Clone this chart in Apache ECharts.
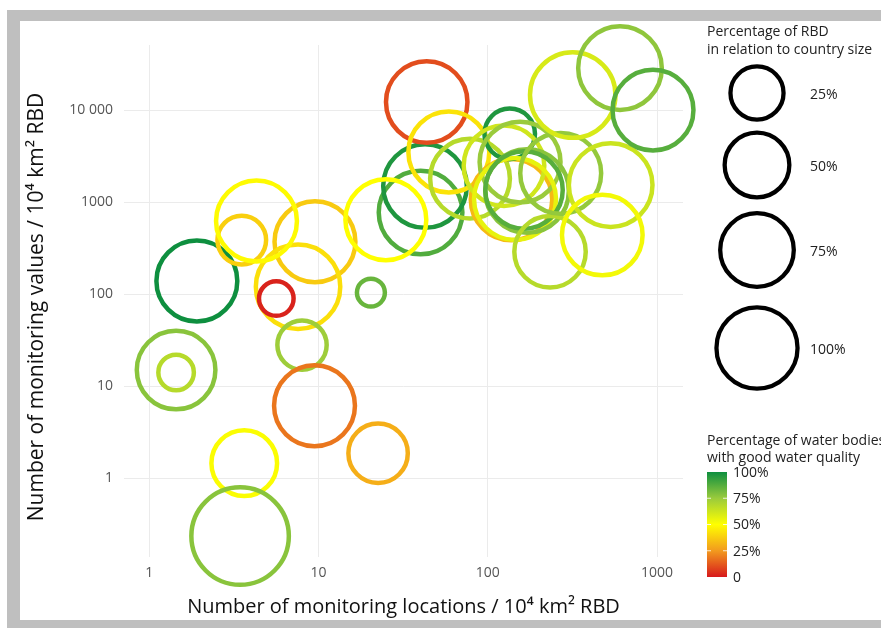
<!DOCTYPE html>
<html>
<head>
<meta charset="utf-8">
<script src="https://cdn.jsdelivr.net/npm/echarts@6/dist/echarts.min.js"></script>
<style>
  html, body { margin: 0; padding: 0; background: #ffffff; }
  #chart { width: 881px; height: 628px; }
</style>
</head>
<body>
<div id="chart"></div>
<script>
// ---- data ----
// monitoring locations / 10^4 km2 RBD
const locations = [1.91, 3.52, 9.53, 7.57, 4.30, 5.63, 20.4, 1.44, 1.44, 7.99, 9.47, 22.5, 3.64, 3.44,
  40.1, 42.6, 25.0, 43.6, 58.9, 78.6, 138.2, 134.9, 124.8, 155.3, 145, 170.7, 163.9, 233.5, 270, 533, 475.5, 318, 605, 948];
// monitoring values / 10^4 km2 RBD
const values = [139, 387, 371, 120.5, 623, 89.7, 104, 15.0, 14.1, 28.0, 6.13, 1.87, 1.46, 0.236,
  771, 1496, 644, 12220, 3500, 1804, 1065, 5520, 2485, 2724, 1081, 1320, 1353, 289, 2055, 1533, 439, 14560, 28600, 10000];
// percentage of RBD in relation to country size
const rbdShare = [100, 18, 100, 113, 100, 3, 0.3, 92, 3.6, 19, 100, 38, 53, 168,
  110, 110, 100, 102, 100, 96, 102, 21, 99, 100, 104, 110, 88, 69, 100, 110, 99, 117, 110, 100];
// percentage of water bodies with good water quality
const goodStatus = [100, 38, 37, 42, 49, 2, 84, 78, 68, 74, 18, 30, 51, 78,
  88, 97, 50, 10, 43, 68, 33, 97, 62, 75, 56, 78, 87, 68, 76, 63, 53, 60, 77, 87];

const xTicks = [1, 10, 100, 1000];
const xTickLabels = ['1', '10', '100', '1000'];
const yTicks = [1, 10, 100, 1000, 10000];
const yTickLabels = ['1', '10', '100', '1000', '10 000'];

const sizeLegendValues = [25, 50, 75, 100];
const sizeLegendLabels = ['25%', '50%', '75%', '100%'];
const colorLegendValues = [100, 75, 50, 25, 0];
const colorLegendLabels = ['100%', '75%', '50%', '25%', '0'];
const colorStops = ['#d7191c', '#f29a1e', '#ffff00', '#9acb3c', '#0e8f3f'];

// ---- helpers ----
const FONT = 'Open Sans';
const STROKE = 4.5;
function outerRadius(p) { return 14.7 + 2.8 * Math.sqrt(p); }
function tickLabel(v, ticks, labels) {
  for (let i = 0; i < ticks.length; i++) {
    if (Math.abs(Math.log10(v) - Math.log10(ticks[i])) < 1e-6) return labels[i];
  }
  return '';
}

const data = locations.map((x, i) => [x, values[i], rbdShare[i], goodStatus[i]]);

const chart = echarts.init(document.getElementById('chart'), null, { renderer: 'canvas' });

// Graphic decorations: frame, size legend, colour bar
const graphics = [];
graphics.push({ type: 'rect', shape: { x: 7, y: 10, width: 874, height: 11 }, style: { fill: '#bfbfbf' }, silent: true });
graphics.push({ type: 'rect', shape: { x: 7, y: 10, width: 13, height: 618 }, style: { fill: '#bfbfbf' }, silent: true });
graphics.push({ type: 'rect', shape: { x: 7, y: 620, width: 874, height: 8 }, style: { fill: '#bfbfbf' }, silent: true });

// size legend
graphics.push({ type: 'text', left: 707, top: 23, style: { text: 'Percentage of RBD\nin relation to country size', font: '14px "' + FONT + '"', fill: '#222', lineHeight: 18 } });
const sizeY = [93, 165, 250, 348];
sizeLegendValues.forEach((v, i) => {
  const r = outerRadius(v) - 2.15;
  graphics.push({ type: 'circle', shape: { cx: 757, cy: sizeY[i], r: r }, style: { fill: 'none', stroke: '#000', lineWidth: 4.3 } });
  graphics.push({ type: 'text', x: 810, y: sizeY[i] + 2, style: { text: sizeLegendLabels[i], font: '14px "' + FONT + '"', fill: '#222', verticalAlign: 'middle' } });
});

// colour legend
graphics.push({ type: 'text', left: 707, top: 433, style: { text: 'Percentage of water bodies\nwith good water quality', font: '14px "' + FONT + '"', fill: '#222', lineHeight: 17 } });
const barX = 707, barY = 472, barW = 20, barH = 105;
graphics.push({
  type: 'rect', shape: { x: barX, y: barY, width: barW, height: barH },
  style: {
    fill: new echarts.graphic.LinearGradient(0, 1, 0, 0, colorStops.map((c, i) => ({ offset: i / (colorStops.length - 1), color: c })))
  }
});
colorLegendValues.forEach((v, i) => {
  const y = barY + barH * (1 - v / 100);
  graphics.push({ type: 'text', x: barX + 26, y: y + 1, style: { text: colorLegendLabels[i], font: '14px "' + FONT + '"', fill: '#222', verticalAlign: 'middle' } });
  if (v > 0 && v < 100) {
    graphics.push({ type: 'line', shape: { x1: barX, y1: y, x2: barX + 4, y2: y }, style: { stroke: 'rgba(255,255,255,0.8)', lineWidth: 1 } });
    graphics.push({ type: 'line', shape: { x1: barX + barW - 4, y1: y, x2: barX + barW, y2: y }, style: { stroke: 'rgba(255,255,255,0.8)', lineWidth: 1 } });
  }
});

const option = {
  backgroundColor: '#ffffff',
  animation: false,
  textStyle: { fontFamily: FONT },
  grid: { left: 124, right: 198, top: 45, bottom: 71, containLabel: false },
  xAxis: {
    type: 'log', logBase: 10, min: 0.7087, max: 1426,
    name: 'Number of monitoring locations / 10\u2074 km\u00b2 RBD',
    nameLocation: 'middle', nameGap: 40,
    nameTextStyle: { fontSize: 20, color: '#111', fontFamily: FONT },
    axisLine: { show: false }, axisTick: { show: false },
    axisLabel: { color: '#555', fontSize: 14, margin: 9, showMinLabel: false, showMaxLabel: false,
      formatter: v => tickLabel(v, xTicks, xTickLabels) },
    splitLine: { show: true, showMinLine: false, showMaxLine: false, lineStyle: { color: '#ebebeb', width: 1 } }
  },
  yAxis: {
    type: 'log', logBase: 10, min: 0.1396, max: 50950,
    name: 'Number of monitoring values / 10\u2074 km\u00b2 RBD',
    nameLocation: 'middle', nameGap: 76,
    nameTextStyle: { fontSize: 21, color: '#111', fontFamily: FONT, padding: [0, 12, 0, 0] },
    axisLine: { show: false }, axisTick: { show: false },
    axisLabel: { color: '#555', fontSize: 14, margin: 11, showMinLabel: false, showMaxLabel: false,
      formatter: v => tickLabel(v, yTicks, yTickLabels) },
    splitLine: { show: true, showMinLine: false, showMaxLine: false, lineStyle: { color: '#ebebeb', width: 1 } }
  },
  visualMap: {
    type: 'continuous', show: false, min: 0, max: 100, dimension: 3, seriesIndex: 0,
    inRange: { color: colorStops }
  },
  series: [{
    type: 'custom',
    coordinateSystem: 'cartesian2d',
    clip: false,
    encode: { x: 0, y: 1 },
    data: data,
    renderItem: function (params, api) {
      const pt = api.coord([api.value(0), api.value(1)]);
      const r = outerRadius(api.value(2)) - STROKE / 2;
      return {
        type: 'circle',
        shape: { cx: pt[0], cy: pt[1], r: r },
        style: { fill: 'none', stroke: api.visual('color'), lineWidth: STROKE }
      };
    }
  }],
  graphic: graphics
};
chart.setOption(option);
</script>
</body>
</html>
